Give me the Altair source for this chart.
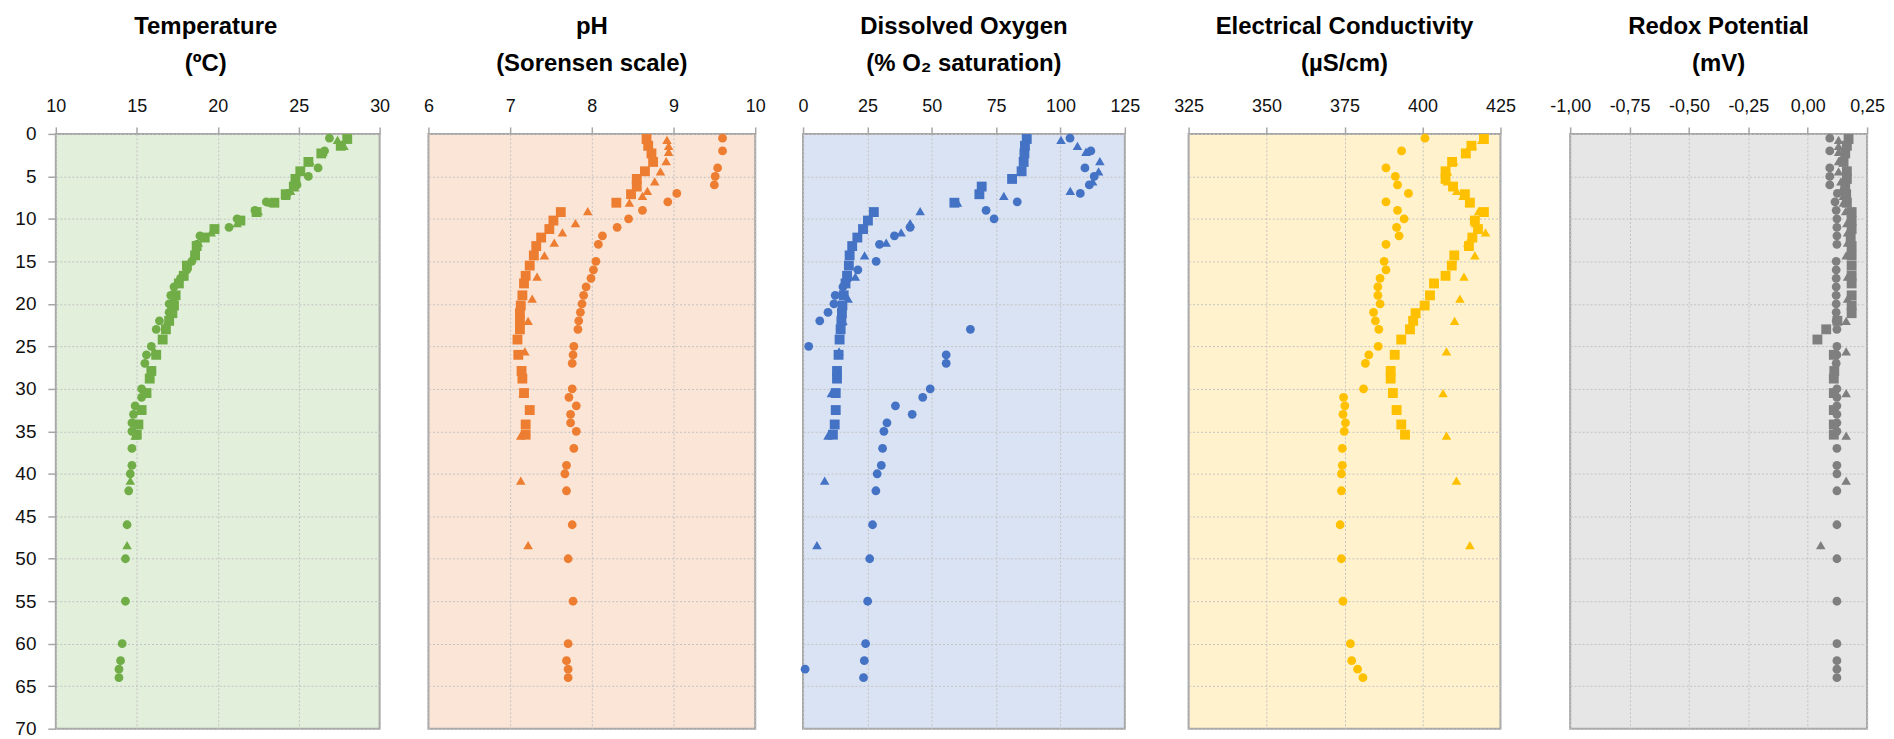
import altair as alt
import pandas as pd

# ---------------- data (depth in m) ----------------
depth_circle = [0.5, 2, 4, 5, 6, 7, 8, 9, 10, 11, 12, 13, 15, 16, 17, 18, 19, 20, 21, 22, 23,
                25, 26, 27, 30, 31, 32, 33, 34, 35, 37, 39, 40, 42, 46, 50, 55, 60, 62, 63, 64]
depth_square = [0.6, 1.4, 2.3, 3.3, 4.4, 5.3, 6.2, 7.1, 8.1, 9.2, 10.2, 11.2, 12.2, 13.2, 14.3,
                15.5, 16.7, 17.6, 19.0, 20.2, 21.1, 22.0, 23.0, 24.2, 26.0, 27.9, 28.8, 30.5,
                32.5, 34.2, 35.4]
depth_triangle = [0.7, 1.4, 2.1, 3.2, 4.4, 5.6, 6.7, 7.3, 8.1, 9.1, 10.5, 11.6, 12.8, 14.3,
                  16.8, 19.4, 22.0, 25.6, 30.5, 35.5, 40.8, 48.4]

temp_circle = [26.9, 26.6, 26.2, 25.6, 24.9, 24.3, 23.0, 22.3, 21.2, 20.7, 18.9, 18.7, 18.4,
               18.1, 17.7, 17.3, 17.1, 17.0, 17.0, 16.4, 16.2, 15.9, 15.6, 15.5, 15.3, 15.3,
               14.9, 14.8, 14.7, 14.7, 14.7, 14.7, 14.6, 14.5, 14.4, 14.3, 14.3, 14.1, 14.0,
               13.9, 13.9]
temp_square = [28.0, 27.6, 26.4, 25.6, 25.1, 24.8, 24.7, 24.2, 23.5, 22.4, 21.4, 19.8, 19.2,
               18.7, 18.6, 18.1, 17.9, 17.6, 17.4, 17.3, 17.2, 17.0, 16.8, 16.6, 16.2, 15.9,
               15.8, 15.6, 15.3, 15.1, 15.0]
temp_triangle = [27.4, 27.8, 26.5, 25.7, 25.2, 24.8, 24.5, 24.2, 23.3, 22.5, 21.2, 19.6, 18.8,
                 18.5, 17.8, 17.3, 16.9, 16.1, 15.5, 14.9, 14.6, 14.4]

ph_circle = [9.60, 9.60, 9.54, 9.51, 9.50, 9.04, 8.93, 8.62, 8.45, 8.31, 8.13, 8.08, 8.05,
             8.02, 7.99, 7.93, 7.90, 7.88, 7.86, 7.84, 7.83, 7.78, 7.77, 7.76, 7.76, 7.72,
             7.81, 7.74, 7.74, 7.81, 7.78, 7.69, 7.67, 7.69, 7.76, 7.71, 7.77, 7.71, 7.69,
             7.71, 7.71]
ph_square = [8.67, 8.69, 8.73, 8.75, 8.65, 8.55, 8.55, 8.48, 8.30, 7.62, 7.53, 7.48, 7.38,
             7.32, 7.29, 7.24, 7.19, 7.17, 7.15, 7.13, 7.12, 7.12, 7.12, 7.09, 7.10, 7.14,
             7.15, 7.17, 7.24, 7.19, 7.19]
ph_triangle = [8.92, 8.94, 8.94, 8.91, 8.84, 8.77, 8.68, 8.62, 8.46, 7.95, 7.80, 7.64, 7.54,
               7.42, 7.33, 7.27, 7.22, 7.18, 7.16, 7.13, 7.13, 7.22]

do_circle = [103.7, 111.8, 109.5, 113.1, 111.2, 107.7, 83.2, 71.1, 74.2, 41.6, 35.5, 29.7,
             28.4, 21.3, 17.5, 15.5, 12.5, 12.0, 9.7, 6.5, 65.0, 2.2, 55.6, 55.6, 49.4, 46.5,
             35.9, 42.4, 32.6, 31.4, 30.9, 30.4, 28.8, 28.3, 27.0, 25.9, 25.1, 24.3, 23.8,
             0.8, 23.5]
do_square = [86.9, 86.2, 86.0, 85.7, 84.9, 81.2, 69.4, 68.5, 58.8, 27.5, 25.2, 23.3, 21.1,
             19.1, 18.1, 17.8, 17.1, 16.5, 15.8, 15.3, 15.1, 14.9, 14.6, 14.2, 13.8, 13.2,
             13.2, 12.7, 12.7, 12.3, 11.6]
do_triangle = [100.2, 106.6, 109.9, 115.3, 114.8, 112.5, 103.8, 78.0, 60.0, 45.5, 41.6, 38.1,
               32.3, 23.9, 20.3, 17.5, 15.5, 14.0, 11.0, 9.7, 8.4, 5.4]

ec_circle = [400.8, 393.3, 388.3, 391.3, 392.0, 395.5, 388.3, 392.0, 394.1, 391.7, 392.5,
             388.3, 387.7, 388.3, 386.4, 385.7, 385.7, 386.4, 384.3, 384.9, 386.0, 385.8,
             382.8, 381.7, 381.1, 374.7, 375.1, 374.5, 375.3, 374.9, 374.3, 374.3, 374.0,
             374.0, 373.6, 374.0, 374.5, 376.9, 377.3, 379.2, 380.9]
ec_square = [419.7, 415.7, 413.9, 409.5, 407.4, 407.4, 409.8, 413.6, 415.2, 419.7, 416.8,
             417.8, 416.0, 414.9, 410.2, 409.4, 407.4, 403.7, 402.4, 400.7, 397.8, 397.0,
             396.0, 393.2, 391.1, 389.8, 389.8, 390.5, 391.7, 393.2, 394.4]
ec_triangle = [419.0, 416.0, 414.0, 410.0, 408.0, 408.0, 411.0, 413.0, 415.0, 418.0, 417.0,
               420.2, 414.5, 416.8, 413.3, 412.0, 410.3, 407.7, 406.6, 407.7, 410.9, 415.2]

redox_circle = [0.093, 0.093, 0.093, 0.093, 0.093, 0.125, 0.115, 0.120, 0.123, 0.123, 0.123,
                0.123, 0.120, 0.120, 0.120, 0.120, 0.120, 0.120, 0.120, 0.120, 0.123, 0.123,
                0.123, 0.120, 0.123, 0.123, 0.123, 0.123, 0.123, 0.123, 0.123, 0.123, 0.123,
                0.123, 0.123, 0.123, 0.123, 0.123, 0.123, 0.123, 0.123]
redox_square = [0.172, 0.165, 0.158, 0.151, 0.165, 0.165, 0.158, 0.162, 0.165, 0.185, 0.185,
                0.185, 0.181, 0.185, 0.185, 0.185, 0.185, 0.185, 0.185, 0.185, 0.185, 0.125,
                0.078, 0.041, 0.110, 0.112, 0.110, 0.110, 0.110, 0.110, 0.110]
redox_triangle = [0.130, 0.130, 0.130, 0.130, 0.130, 0.140, 0.140, 0.150, 0.150, 0.160, 0.165,
                  0.168, 0.168, 0.162, 0.168, 0.168, 0.162, 0.162, 0.162, 0.162, 0.162, 0.055]

depth_ticks = [0, 5, 10, 15, 20, 25, 30, 35, 40, 45, 50, 55, 60, 65, 70]
temp_ticks = [10, 15, 20, 25, 30]
ph_ticks = [6, 7, 8, 9, 10]
do_ticks = [0, 25, 50, 75, 100, 125]
ec_ticks = [325, 350, 375, 400, 425]
redox_ticks = [-1.0, -0.75, -0.5, -0.25, 0.0, 0.25]

# ---------------- styling ----------------
FONT = "Liberation Sans"
BORDER = "#A6A6A6"
GRID = "#C3C3C3"
PLOT_H = 597


def make_df(c, s, t):
    frames = [
        pd.DataFrame({"depth": depth_circle, "value": c, "series": "Circle", "sz": 78}),
        pd.DataFrame({"depth": depth_triangle, "value": t, "series": "Triangle", "sz": 92}),
        pd.DataFrame({"depth": depth_square, "value": s, "series": "Square", "sz": 98}),
    ]
    return pd.concat(frames, ignore_index=True)


def panel(c, s, t, title, domain, ticks, bg, color, width, y_extent,
          first=False, label_expr=None, title_dx=0):
    df = make_df(c, s, t)
    xkw = dict(orient="top", values=ticks, title=None, domain=False, ticks=True,
               tickSize=7, tickColor=BORDER, tickWidth=1.5, labelFontSize=18,
               labelFont=FONT, labelColor="#111111", labelPadding=11, grid=True,
               gridColor=GRID, gridDash=[2, 2], gridWidth=1, labelOverlap=False,
               labelFlush=False)
    if label_expr:
        xkw["labelExpr"] = label_expr
    xaxis = alt.Axis(**xkw)
    if first:
        yaxis = alt.Axis(values=depth_ticks, title=None, domain=False, tickSize=8,
                         tickColor=BORDER, tickWidth=1.5, labelFontSize=19, labelFont=FONT,
                         labelColor="#111111", labelPadding=12, grid=True, gridColor=GRID,
                         gridDash=[2, 2], gridWidth=1, minExtent=y_extent,
                         maxExtent=y_extent, labelOverlap=False, labelFlush=False)
    else:
        yaxis = alt.Axis(values=depth_ticks, title=None, domain=False, ticks=False,
                         labels=False, grid=True, gridColor=GRID, gridDash=[2, 2],
                         gridWidth=1, minExtent=y_extent, maxExtent=y_extent)
    return alt.Chart(df).mark_point(filled=True, opacity=1).encode(
        x=alt.X("value:Q", scale=alt.Scale(domain=domain, nice=False, zero=False), axis=xaxis),
        y=alt.Y("depth:Q", scale=alt.Scale(domain=[0, 70], reverse=True, nice=False, zero=False),
                axis=yaxis),
        shape=alt.Shape("series:N",
                        scale=alt.Scale(domain=["Circle", "Square", "Triangle"],
                                        range=["circle", "square", "triangle-up"]),
                        legend=None),
        size=alt.Size("sz:Q", scale=None),
        color=alt.value(color),
    ).properties(
        width=width,
        height=PLOT_H,
        title=alt.TitleParams(text=title, fontSize=24, font=FONT, fontWeight="bold",
                              color="#000000", anchor="middle", frame="group", offset=22,
                              lineHeight=37, dx=title_dx),
        view=alt.ViewBackground(fill=bg, stroke=BORDER, strokeWidth=2),
    )


redox_expr = "replace(replace(format(datum.value, '.2f'), '.', ','), '−', '-')"

p1 = panel(temp_circle, temp_square, temp_triangle, ["Temperature", "(ºC)"], [10, 30],
           temp_ticks, "#E2EFDA", "#70AD47", 325, 47, first=True, title_dx=-12)
p2 = panel(ph_circle, ph_square, ph_triangle, ["pH", "(Sorensen scale)"], [6, 10],
           ph_ticks, "#FBE5D6", "#ED7D31", 328, 36)
p3 = panel(do_circle, do_square, do_triangle, ["Dissolved Oxygen", "(% O₂ saturation)"],
           [0, 125], do_ticks, "#DAE3F3", "#4472C4", 323, 35)
p4 = panel(ec_circle, ec_square, ec_triangle, ["Electrical Conductivity", "(µS/cm)"],
           [325, 425], ec_ticks, "#FFF2CC", "#FFC000", 313, 46)
p5 = panel(redox_circle, redox_square, redox_triangle, ["Redox Potential", "(mV)"],
           [-1.0, 0.25], redox_ticks, "#E7E6E6", "#7F7F7F", 298, 52, label_expr=redox_expr)

chart = alt.hconcat(p1, p2, p3, p4, p5, spacing=0).properties(
    padding={"top": 5, "left": 0, "right": 0, "bottom": 0}, background="white"
)

chart.save("out.html", embed_options={"renderer": "svg", "actions": False})
